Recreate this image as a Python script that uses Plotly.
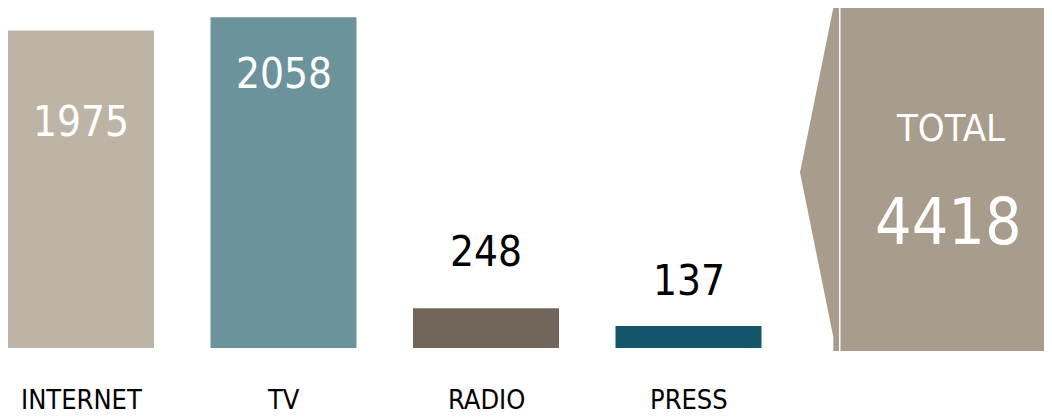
import plotly.graph_objects as go

categories = ["INTERNET", "TV", "RADIO", "PRESS"]
values = [1975, 2058, 248, 137]
bar_colors = ["#BEB4A6", "#6C939C", "#726559", "#13566B"]
label_colors = ["white", "white", "black", "black"]
label_shifts = [-91, -56, 57, 45]   # vertical offset of value label from bar top (px)
total_label = "TOTAL"
total_value = sum(values)

# page body has an 8px margin, so the figure is drawn 8px in from the window corner
OFF = 8
W, H = 1052 - OFF, 418 - OFF
PLOT_B = 70
FONT = "DejaVu Sans Condensed, Liberation Sans Narrow, sans-serif"

x_idx = list(range(len(categories)))

fig = go.Figure()
fig.add_trace(go.Bar(
    x=x_idx, y=values, width=0.721,
    marker=dict(color=bar_colors, line=dict(width=0)),
    hoverinfo="skip", showlegend=False,
))

annotations = []
for i, (v, c, s) in enumerate(zip(values, label_colors, label_shifts)):
    annotations.append(dict(
        x=i, y=v, xref="x", yref="y", text=str(v), showarrow=False,
        yshift=s, yanchor="middle", xanchor="center",
        font=dict(family=FONT, size=42, color=c),
    ))
for i, cat in enumerate(categories):
    annotations.append(dict(
        x=i, y=0, xref="x", yref="y", text=cat, showarrow=False,
        yshift=-51, yanchor="middle", xanchor="center",
        font=dict(family=FONT, size=27, color="black"),
    ))

plot_h = H - PLOT_B

def px(xr):
    return (xr - OFF) / W

def py(yr):
    return (plot_h - (yr - OFF)) / plot_h

panel_color = "#A89C8C"
shapes = [
    dict(type="rect", xref="paper", yref="paper",
         x0=px(840.5), x1=px(1070), y0=py(351), y1=py(8),
         fillcolor=panel_color, line=dict(width=0), layer="below"),
    dict(type="path", xref="paper", yref="paper",
         path="M {:.5f},{:.5f} L {:.5f},{:.5f} L {:.5f},{:.5f} L {:.5f},{:.5f} L {:.5f},{:.5f} L {:.5f},{:.5f} Z".format(
             px(833.3), py(8), px(839), py(8), px(839), py(351),
             px(833.3), py(351), px(833.3), py(337), px(800), py(172.5)),
         fillcolor=panel_color, line=dict(width=0), layer="below"),
]

annotations.append(dict(
    x=px(950), y=py(128), xref="paper", yref="paper", text=total_label,
    showarrow=False, xanchor="center", yanchor="middle",
    font=dict(family=FONT, size=38, color="white"),
))
annotations.append(dict(
    x=px(949), y=py(222), xref="paper", yref="paper", text=str(total_value),
    showarrow=False, xanchor="center", yanchor="middle",
    font=dict(family=FONT, size=64, color="white"),
))

x0_center = 81 - OFF
step = 202.5
fig.update_layout(
    width=W, height=H,
    margin=dict(l=0, r=0, t=0, b=PLOT_B, pad=0),
    paper_bgcolor="white", plot_bgcolor="white",
    xaxis=dict(range=[-x0_center / step, (W - x0_center) / step], visible=False, fixedrange=True),
    yaxis=dict(range=[0, plot_h / 0.16073], visible=False, fixedrange=True),
    annotations=annotations, shapes=shapes,
    showlegend=False,
)

fig.write_html("out.html", config={"displayModeBar": False})
